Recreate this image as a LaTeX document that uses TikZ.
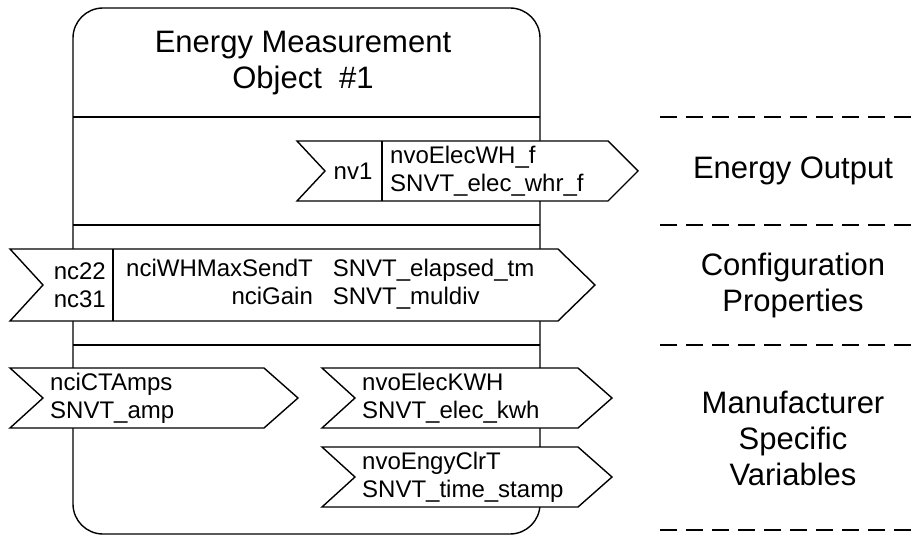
\documentclass[tikz,border=0pt]{standalone}
\usepackage{fontspec}
\setmainfont{Liberation Sans}

\tikzset{
  sig/.style={draw,fill=white,line width=1.4pt,line join=miter},
  big/.style={font=\fontsize{31}{36}\selectfont,align=center,inner sep=0pt},
  small/.style={font=\fontsize{24}{28}\selectfont,inner sep=0pt},
  sep/.style={line width=1.4pt,dash pattern=on 17pt off 9pt}
}

\begin{document}
\begin{tikzpicture}[x=1pt,y=-1pt]
		\useasboundingbox (0,0) rectangle (915,537);
		% object box
		\draw[line width=1.4pt,rounded corners=30pt] (73,8) rectangle (540,534);
		\node[big] (title) at (303,63) {Energy Measurement\\Object\ \ \#1};
		\draw[line width=1.4pt] (73,117) -- (540,117);
		\draw[line width=1.4pt] (73,225) -- (540,225);
		\draw[line width=1.4pt] (73,345) -- (540,345);
		% energy output
		\draw[sig] (297,141) -- (608,141) -- (638,171) -- (608,201) -- (297,201) -- (325,171) -- cycle;
		\draw[line width=1.4pt] (382,141) -- (382,201);
		\node[small] (nv1) at (353,171) {nv1};
		\node[small,anchor=west,align=left] (nvowh) at (390,171) {nvoElecWH\_f\\SNVT\_elec\_whr\_f};
		% configuration properties
		\draw[sig] (10,249) -- (558,249) -- (595,285) -- (558,321) -- (10,321) -- (43,285) -- cycle;
		\draw[line width=1.4pt] (113,249) -- (113,321);
		\node[small,anchor=east,align=right] (nc) at (106,285) {nc22\\nc31};
		\node[small,anchor=west] (nci) at (126,285) {\begin{tabular}{@{}r@{\hspace{20pt}}l@{}}
			nciWHMaxSendT & SNVT\_elapsed\_tm\\
			nciGain & SNVT\_muldiv
		\end{tabular}};
		% manufacturer specific
		\draw[sig] (10,368) -- (264,368) -- (298,398) -- (264,428) -- (10,428) -- (43,398) -- cycle;
		\node[small,anchor=west,align=left] (amps) at (50,398) {nciCTAmps\\SNVT\_amp};
		\draw[sig] (322,368) -- (578,368) -- (612,398) -- (578,428) -- (322,428) -- (355,398) -- cycle;
		\node[small,anchor=west,align=left] (kwh) at (362,398) {nvoElecKWH\\SNVT\_elec\_kwh};
		\draw[sig] (322,447) -- (578,447) -- (612,477) -- (578,507) -- (322,507) -- (355,477) -- cycle;
		\node[small,anchor=west,align=left] (clrt) at (362,477) {nvoEngyClrT\\SNVT\_time\_stamp};
		% right hand labels
		\draw[sep] (660,117) -- (915,117);
		\draw[sep] (660,225) -- (915,225);
		\draw[sep] (660,345) -- (915,345);
		\draw[sep] (660,530) -- (915,530);
		\node[big] (out) at (793,171) {Energy Output};
		\node[big] (conf) at (793,285) {Configuration\\Properties};
		\node[big] (msv) at (793,438) {Manufacturer\\Specific\\Variables};
	\end{tikzpicture}
\end{document}
